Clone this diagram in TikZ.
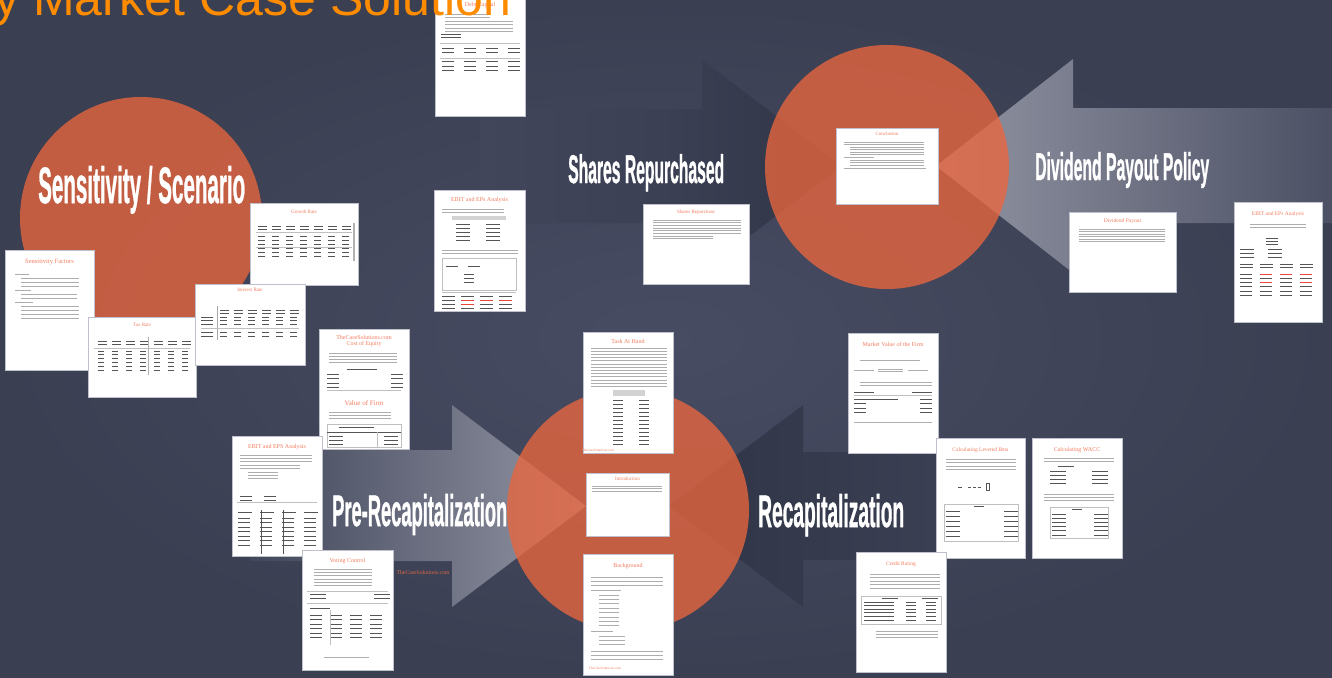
\documentclass[tikz,border=0pt]{standalone}
\usepackage{fontspec}
\usepackage{graphicx}
\newfontfamily\arialf{Liberation Sans}
\newfontfamily\serf{Liberation Serif}
\newfontfamily\ttlfont[FakeBold=1.2]{Liberation Sans}

\definecolor{bgc}{HTML}{41465B}
\definecolor{bglight}{HTML}{474C63}
\definecolor{bgdark}{HTML}{3A3F52}
\definecolor{circ}{HTML}{EA663E}
\definecolor{docedge}{HTML}{BEC1CC}
\definecolor{ttl}{HTML}{F47C5E}
\definecolor{txtgray}{HTML}{ADADAD}
\definecolor{tblk}{HTML}{555555}
\definecolor{tred}{HTML}{E8443A}
\definecolor{mainorange}{HTML}{FF8C00}
\definecolor{sitetag}{HTML}{E2683F}
\definecolor{lightarrow}{HTML}{9295A3}
\definecolor{darkarrowA}{HTML}{3B4054}
\definecolor{darkarrowB}{HTML}{2F3446}

\tikzset{
  doc/.style={draw=docedge, line width=1.4pt, fill=white, inner sep=0pt, anchor=north west},
  dtitle/.style={text=ttl, font=\serf\fontsize{6}{7}\selectfont, inner sep=0pt},
  stitle/.style={text=ttl, font=\serf\fontsize{5}{6}\selectfont, inner sep=0pt},
  foot/.style={text=ttl, font=\serf\fontsize{3.5}{4}\selectfont, inner sep=0pt},
  txt/.style={draw=txtgray, line width=0.7pt},
  tb/.style={draw=tblk, line width=1pt},
  tbr/.style={draw=tred, line width=1pt},
  rule/.style={draw=gray!50, line width=0.5pt},
  lbl/.style={text=white, inner sep=0pt, anchor=base west},
}

% grey text lines: x, y, count, spacing, length
\newcommand\plines[5]{\foreach \ii in {1,...,#3}{\draw[txt] (#1,{#2+(\ii-1)*#4}) -- ++(#5,0);}}
% table marks: x, y, columns, rows, column step, row step, mark length
\newcommand\tgrid[7]{\foreach \rr in {1,...,#4}{\foreach \cc in {1,...,#3}{\draw[tb] ({#1+(\cc-1)*#5},{#2+(\rr-1)*#6}) -- ++(#7,0);}}}
% big white heading scaled to width and height
\newcommand\heading[3]{\resizebox{#1pt}{#2pt}{\ttlfont\bfseries #3}}

\begin{document}
\begin{tikzpicture}[x=1pt, y=-1pt]
\useasboundingbox (0,0) rectangle (1332,677);
\clip (0,0) rectangle (1332,677);

% background
\shade[inner color=bglight, outer color=bgdark] (0,0) rectangle (1332,677);

% arrows
\shade[left color=bgc, right color=darkarrowB, middle color=darkarrowA]
  (480,109) -- (702,109) -- (702,60) -- (842,166) -- (702,272) -- (702,223) -- (480,223) -- cycle;
\shade[left color=lightarrow, right color=bgc]
  (936,166) -- (1073,59) -- (1073,108) -- (1390,108) -- (1390,223) -- (1073,223) -- (1073,273) -- cycle;
\shade[left color=bgc, right color=lightarrow]
  (250,450) -- (452,450) -- (452,405) -- (586,506) -- (452,607) -- (452,561) -- (250,561) -- cycle;
\shade[left color=darkarrowB, right color=darkarrowA!80!bgc]
  (669,506) -- (803,405) -- (803,452) -- (990,452) -- (990,560) -- (803,560) -- (803,607) -- cycle;

% circles
\fill[circ, fill opacity=0.78] (141,218) circle (121pt);
\fill[circ, fill opacity=0.78] (887,167) circle (122pt);
\fill[circ, fill opacity=0.78] (628,510) circle (121pt);

% ---------- sensitivity cluster ----------
\node[doc, minimum width=89pt, minimum height=120pt] (dSens) at (5,250) {};
\begin{scope}[shift={(5,250)}]
  \node[dtitle, font=\serf\fontsize{6.5}{7}\selectfont] (tSens) at (44.5,12) {Sensitivity Factors};
  \plines{10}{24}{1}{4}{14}
  \plines{16}{28}{3}{4}{58}
  \plines{10}{40}{1}{4}{16}
  \plines{16}{44}{2}{4}{56}
  \plines{10}{52}{1}{4}{18}
  \plines{16}{56}{4}{4}{58}
\end{scope}

\node[doc, minimum width=108pt, minimum height=82pt] (dGrowth) at (250,203) {};
\begin{scope}[shift={(250,203)}]
  \node[stitle] (tGrowth) at (54,9) {Growth Rate};
  \tgrid{8}{23}{7}{2}{14}{3}{9}
  \draw[rule] (6,29) -- (102,29);
  \tgrid{8}{33}{7}{6}{14}{4}{7}
  \draw[rule] (6,44) -- (102,44);
  \draw[line width=1.2pt, gray!60] (104,20) -- (104,58);
\end{scope}

\node[doc, minimum width=108pt, minimum height=80pt] (dTax) at (88,317) {};
\begin{scope}[shift={(88,317)}]
  \node[stitle] (tTax) at (54,8) {Tax Rate};
  \tgrid{10}{24}{7}{2}{14}{3}{9}
  \draw[rule] (6,31) -- (102,31);
  \tgrid{10}{34}{7}{6}{14}{3.8}{6}
  \draw[line width=1pt, gray!60] (60,20) -- (60,58);
\end{scope}

\node[doc, minimum width=110pt, minimum height=81pt] (dInt) at (195,284) {};
\begin{scope}[shift={(195,284)}]
  \node[stitle] (tInt) at (55,6) {Interest Rate};
  \tgrid{25}{26}{6}{2}{14}{3}{9}
  \tgrid{6}{33}{1}{6}{0}{3.8}{12}
  \tgrid{25}{33}{6}{6}{14}{3.8}{7}
  \draw[line width=1pt, gray!70] (22,22) -- (22,56);
  \draw[rule] (6,44) -- (104,44);
\end{scope}

% ---------- pre-recapitalization cluster ----------
\node[doc, minimum width=90pt, minimum height=120pt] (dCost) at (319,329) {};
\begin{scope}[shift={(319,329)}]
  \node[dtitle] (tSite1) at (45,8) {TheCaseSolutions.com};
  \node[dtitle] (tCost) at (45,15) {Cost of Equity};
  \plines{10}{24}{4}{3.2}{68}
  \tgrid{28}{40}{1}{1}{0}{0}{30}
  \tgrid{8}{45}{2}{4}{64}{4.5}{12}
  \draw[rule] (8,61) -- (82,61);
  \node[dtitle, font=\serf\fontsize{7}{8}\selectfont] (tValue) at (45,74) {Value of Firm};
  \plines{10}{83}{3}{3.2}{62}
  \draw[rule] (8,95) rectangle (82,118);
  \tgrid{20}{98}{1}{1}{0}{0}{35}
  \draw[tb] (8,103) -- (82,103);
  \tgrid{10}{107}{2}{3}{55}{4}{14}
  \draw[rule] (58,103) -- (58,118);
\end{scope}

\node[doc, minimum width=90pt, minimum height=120pt] (dEbitA) at (232,436) {};
\begin{scope}[shift={(232,436)}]
  \node[dtitle] (tEbitA) at (45,11) {EBIT and EPS Analysis};
  \plines{8}{19}{3}{3.3}{72}
  \plines{8}{29}{2}{3.3}{60}
  \plines{16}{36}{3}{3.3}{30}
  \tgrid{8}{60}{2}{2}{24}{4}{12}
  \draw[rule] (5,66) -- (85,66);
  \tgrid{6}{76}{4}{1}{22}{0}{14}
  \tgrid{6}{82}{4}{7}{22}{4.5}{12}
  \draw[tb] (29,74) -- (29,118);
  \draw[tb] (51,74) -- (51,118);
\end{scope}

\node[doc, minimum width=91pt, minimum height=120pt] (dVote) at (302,550) {};
\begin{scope}[shift={(302,550)}]
  \node[dtitle] (tVote) at (45.5,11) {Voting Control};
  \plines{12}{19}{6}{3.3}{58}
  \draw[rule] (5,41) -- (86,41);
  \tgrid{8}{44}{2}{2}{64}{4}{16}
  \draw[rule] (5,53) -- (86,53);
  \tgrid{8}{58}{1}{1}{0}{0}{20}
  \tgrid{8}{65}{4}{6}{20}{4.5}{12}
  \draw[rule] (28,60) -- (28,95);
  \plines{22}{107}{1}{1}{45}
\end{scope}

\node[text=sitetag, font=\serf\fontsize{5.7}{7}\selectfont, inner sep=0pt] (siteTag) at (423,573) {TheCaseSolutions.com};

% ---------- shares repurchased cluster ----------
\node[doc, minimum width=90pt, minimum height=118pt] (dDebt) at (435,-2) {};
\begin{scope}[shift={(435,-2)}]
  \node[dtitle] (tDebt) at (45,7) {Debt Capital};
  \plines{10}{16}{2}{3.5}{45}
  \plines{10}{23}{4}{3.5}{68}
  \tgrid{6}{37}{1}{2}{0}{3}{20}
  \draw[rule] (5,45) -- (85,45);
  \tgrid{7}{51}{4}{2}{22}{4}{12}
  \draw[rule] (5,60) -- (85,60);
  \tgrid{7}{64}{4}{3}{22}{4}{12}
\end{scope}

\node[doc, minimum width=91pt, minimum height=121pt] (dEbitB) at (434,190) {};
\begin{scope}[shift={(434,190)}]
  \node[dtitle] (tEbitB) at (45.5,10) {EBIT and EPs Analysis};
  \plines{8}{19}{2}{3.3}{62}
  \fill[gray!35] (18,26) rectangle (72,30);
  \tgrid{22}{34}{2}{5}{30}{4.2}{14}
  \plines{8}{60}{2}{3.3}{76}
  \draw[rule] (8,68) rectangle (82,100);
  \tgrid{12}{76}{2}{1}{22}{0}{12}
  \tgrid{30}{84}{1}{3}{0}{4}{10}
  \draw[rule] (8,102) -- (82,102);
  \tgrid{8}{106}{4}{4}{19}{4}{13}
  \draw[tbr] (27,110) -- ++(13,0);
  \draw[tbr] (46,110) -- ++(13,0);
  \draw[tbr] (65,110) -- ++(13,0);
  \draw[tbr] (27,114) -- ++(13,0);
\end{scope}

\node[doc, minimum width=106pt, minimum height=80pt] (dShares) at (643,204) {};
\begin{scope}[shift={(643,204)}]
  \node[stitle] (tShares) at (53,8) {Shares Repurchase};
  \plines{10}{16}{3}{2.6}{88}
  \plines{10}{24}{3}{2.6}{88}
  \plines{10}{32}{2}{2.6}{60}
\end{scope}

% ---------- dividend cluster ----------
\node[doc, minimum width=102pt, minimum height=76pt] (dConc) at (836,128) {};
\begin{scope}[shift={(836,128)}]
  \node[stitle] (tConc) at (51,6) {Conclusion};
  \plines{8}{14}{2}{2.6}{80}
  \plines{14}{19}{4}{2.6}{74}
  \plines{8}{29}{1}{1}{30}
  \plines{14}{32}{3}{2.6}{74}
  \plines{8}{40}{1}{1}{82}
\end{scope}

\node[doc, minimum width=107pt, minimum height=80pt] (dDiv) at (1069,212) {};
\begin{scope}[shift={(1069,212)}]
  \node[stitle, font=\serf\fontsize{5.5}{6}\selectfont] (tDiv) at (53.5,9) {Dividend Payout};
  \plines{10}{17}{6}{2.5}{86}
\end{scope}

\node[doc, minimum width=88pt, minimum height=120pt] (dEbitC) at (1234,202) {};
\begin{scope}[shift={(1234,202)}]
  \node[stitle, font=\serf\fontsize{5.5}{6}\selectfont] (tEbitC) at (44,12) {EBIT and EPs Analysis};
  \plines{16}{22}{2}{3}{56}
  \tgrid{32}{36}{1}{3}{0}{3}{12}
  \tgrid{6}{47}{2}{3}{28}{4}{14}
  \tgrid{6}{62}{4}{2}{20}{3.5}{13}
  \tgrid{6}{72}{4}{6}{20}{4.3}{12}
  \draw[tbr] (26,72) -- ++(12,0);
  \draw[tbr] (46,72) -- ++(12,0);
  \draw[tbr] (66,72) -- ++(12,0);
  \draw[tbr] (26,80.6) -- ++(12,0);
  \draw[tbr] (66,80.6) -- ++(12,0);
\end{scope}

% ---------- centre column ----------
\node[doc, minimum width=90pt, minimum height=121pt] (dTask) at (583,332) {};
\begin{scope}[shift={(583,332)}]
  \node[dtitle] (tTask) at (45,9) {Task At Hand};
  \plines{8}{16}{13}{3.2}{76}
  \fill[gray!35] (30,58) rectangle (62,64);
  \tgrid{30}{68}{2}{12}{26}{4}{10}
  \node[foot] (fTask) at (15,118) {TheCaseSolutions.com};
\end{scope}

\node[doc, minimum width=83pt, minimum height=63pt] (dIntro) at (586,473) {};
\begin{scope}[shift={(586,473)}]
  \node[stitle] (tIntro) at (41.5,6) {Introduction};
  \plines{6}{13}{3}{2.5}{70}
\end{scope}

\node[doc, minimum width=90pt, minimum height=121pt] (dBack) at (583,554) {};
\begin{scope}[shift={(583,554)}]
  \node[dtitle] (tBack) at (45,12) {Background};
  \plines{8}{23}{3}{4.2}{72}
  \plines{8}{36}{1}{1}{30}
  \plines{16}{41}{8}{4.4}{20}
  \plines{8}{77}{1}{1}{22}
  \plines{16}{82}{3}{4.2}{26}
  \plines{8}{97}{3}{4.4}{72}
  \node[foot] (fBack) at (22,114) {TheCaseSolutions.com};
\end{scope}

% ---------- recapitalization cluster ----------
\node[doc, minimum width=90pt, minimum height=120pt] (dMarket) at (848,333) {};
\begin{scope}[shift={(848,333)}]
  \node[dtitle] (tMarket) at (45,11) {Market Value of the Firm};
  \plines{12}{27}{1}{1}{60}
  \plines{6}{37}{1}{1}{20}
  \plines{30}{36}{2}{2.5}{25}
  \plines{60}{37}{1}{1}{20}
  \plines{12}{49}{2}{3}{72}
  \tgrid{6}{59}{2}{1}{58}{0}{20}
  \draw[rule] (6,62) -- (84,62);
  \tgrid{6}{66}{2}{4}{66}{4.5}{12}
  \draw[tb] (6,66) -- (50,66);
  \plines{6}{89}{1}{1}{78}
\end{scope}

\node[doc, minimum width=89pt, minimum height=120pt] (dBeta) at (936,438) {};
\begin{scope}[shift={(936,438)}]
  \node[stitle, font=\serf\fontsize{5.5}{6}\selectfont] (tBeta) at (44.5,12) {Calculating Levered Beta};
  \plines{10}{21}{4}{3.5}{70}
  \tgrid{22}{49}{1}{1}{0}{0}{4}
  \tgrid{32}{49}{3}{1}{5}{0}{3}
  \draw[tb] (50,45) rectangle (53,52);
  \draw[rule] (8,66) rectangle (82,103);
  \tgrid{38}{68}{1}{1}{0}{0}{10}
  \tgrid{10}{73}{2}{6}{58}{5}{14}
\end{scope}

\node[doc, minimum width=90pt, minimum height=120pt] (dWacc) at (1032,438) {};
\begin{scope}[shift={(1032,438)}]
  \node[dtitle] (tWacc) at (45,12) {Calculating WACC};
  \plines{12}{20}{2}{3}{70}
  \tgrid{26}{28}{1}{1}{0}{0}{16}
  \tgrid{18}{33}{2}{4}{42}{4}{16}
  \plines{12}{56}{3}{3}{70}
  \draw[rule] (18,69) rectangle (76,100);
  \tgrid{40}{71}{1}{1}{0}{0}{10}
  \tgrid{20}{76}{2}{6}{42}{4.2}{14}
\end{scope}

\node[doc, minimum width=90pt, minimum height=120pt] (dCredit) at (856,552) {};
\begin{scope}[shift={(856,552)}]
  \node[stitle, font=\serf\fontsize{5.5}{6}\selectfont] (tCredit) at (45,12) {Credit Rating};
  \plines{14}{22}{5}{3.5}{70}
  \draw[rule] (5,44) rectangle (85,72);
  \tgrid{26}{46}{2}{1}{40}{0}{16}
  \tgrid{8}{50}{1}{6}{0}{3.6}{30}
  \tgrid{50}{50}{2}{6}{20}{3.6}{10}
  \plines{20}{79}{3}{3.2}{62}
\end{scope}

% ---------- headings ----------
\node[lbl] (lSens) at (38,203) {\heading{207}{37}{Sensitivity / Scenario}};
\node[lbl] (lShares) at (568,183) {\heading{156}{29}{Shares Repurchased}};
\node[lbl] (lDiv) at (1035,180) {\heading{174}{28}{Dividend Payout Policy}};
\node[lbl] (lPre) at (332,526) {\heading{175}{32}{Pre-Recapitalization}};
\node[lbl] (lRecap) at (758,527) {\heading{146}{33}{Recapitalization}};

% page title
\node[anchor=base west, inner sep=0pt, text=mainorange, font=\arialf\fontsize{50}{60}\selectfont] (mainTitle) at (-6,15.5) {y Market Case Solution};
\end{tikzpicture}
\end{document}
